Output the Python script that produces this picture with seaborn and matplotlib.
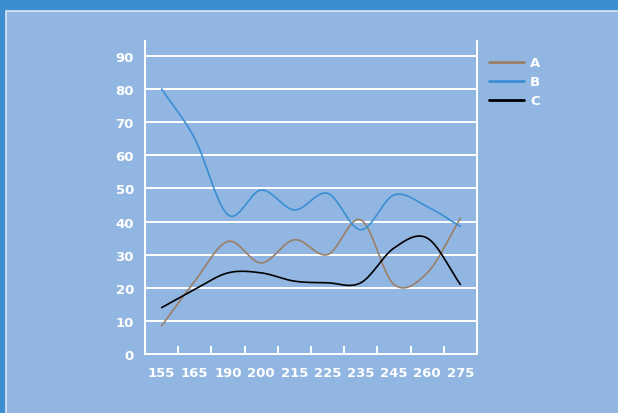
import numpy as np
import pandas as pd
import matplotlib
matplotlib.use("Agg")
import matplotlib.pyplot as plt
from matplotlib.patches import Rectangle
import seaborn as sns

# Chart data
categories = ["155", "165", "190", "200", "215", "225", "235", "245", "260", "275"]
series_a = [8.5, 22, 34, 27.5, 34.5, 30, 40.5, 21, 24.5, 41]
series_b = [80, 65, 42, 49.5, 43.5, 48.5, 37.5, 48, 44.5, 38.5]
series_c = [14, 19.5, 24.5, 24.5, 22, 21.5, 21.5, 32, 35, 21]
series_names = ["A", "B", "C"]
y_ticks = [0, 10, 20, 30, 40, 50, 60, 70, 80, 90]

colors = {"A": "#9a7f68", "B": "#3a8fd4", "C": "#000000"}
outer_bg = "#3d8ecf"
panel_bg = "#91b6e1"


def _smooth(values, steps=30):
    """Catmull-Rom curve through the points, x in category index units."""
    y = np.asarray(values, dtype=float)
    n = len(y)
    tang = np.empty(n)
    tang[0] = y[1] - y[0]
    tang[-1] = y[-1] - y[-2]
    tang[1:-1] = (y[2:] - y[:-2]) / 2
    xs, ys = [], []
    for i in range(n - 1):
        t = np.linspace(0, 1, steps, endpoint=False)
        h00 = 2 * t**3 - 3 * t**2 + 1
        h10 = t**3 - 2 * t**2 + t
        h01 = -2 * t**3 + 3 * t**2
        h11 = t**3 - t**2
        xs.append(i + t)
        ys.append(h00 * y[i] + h10 * tang[i] + h01 * y[i + 1] + h11 * tang[i + 1])
    xs.append([n - 1])
    ys.append([y[-1]])
    return np.concatenate(xs), np.concatenate(ys)


frames = []
for name, vals in zip(series_names, [series_a, series_b, series_c]):
    sx, sy = _smooth(vals)
    frames.append(pd.DataFrame({"x": sx, "y": sy, "series": name}))
df = pd.concat(frames, ignore_index=True)

sns.set_theme(style="white")
plt.rcParams["font.family"] = ["DejaVu Sans"]

fig = plt.figure(figsize=(6.18, 4.14), dpi=100)
fig.patch.set_facecolor(outer_bg)

# inner light panel with thin pale border
panel = Rectangle((6 / 618, -0.1), 1.2, 1.1 - 12 / 414, transform=fig.transFigure,
                  facecolor=panel_bg, edgecolor="#dbe8f6", linewidth=1.2, zorder=-5)
fig.patches.append(panel)

ax = fig.add_axes([145 / 618, 59 / 414, 332 / 618, 313 / 414])
ax.set_zorder(2)
ax.set_facecolor(panel_bg)

sns.lineplot(data=df, x="x", y="y", hue="series", palette=colors, sort=False,
             linewidth=1.2, ax=ax, estimator=None)

ax.set_xlim(-0.5, len(categories) - 0.5)
ax.set_ylim(0, 94.5)

ax.set_yticks(y_ticks)
ax.set_yticklabels([str(v) for v in y_ticks])
ax.set_xticks(range(len(categories)))
ax.set_xticklabels(categories)
ax.set_xticks(np.arange(0.5, len(categories) - 1, 1.0), minor=True)

ax.yaxis.grid(True, color="white", linewidth=1.4)
ax.set_axisbelow(True)

for side in ["left", "bottom", "right"]:
    ax.spines[side].set_visible(True)
    ax.spines[side].set_color("white")
    ax.spines[side].set_linewidth(1.4)
ax.spines["top"].set_visible(False)

ax.tick_params(axis="x", which="major", bottom=True, length=0, pad=9, labelsize=9.5,
               labelcolor="white")
ax.tick_params(axis="x", which="minor", bottom=True, direction="in", length=6, width=1.4,
               color="white")
ax.tick_params(axis="y", length=0, pad=8, labelsize=9.5, labelcolor="white")
for lab in ax.get_xticklabels() + ax.get_yticklabels():
    lab.set_fontweight("bold")

ax.set_xlabel("")
ax.set_ylabel("")

leg = ax.legend(loc="upper left", bbox_to_anchor=(484 / 618, 1 - 52 / 414),
                bbox_transform=fig.transFigure, frameon=False, handlelength=2.6,
                handletextpad=0.5, labelspacing=0.45, fontsize=9.5, borderaxespad=0)
for txt in leg.get_texts():
    txt.set_color("white")
    txt.set_fontweight("bold")
for line in leg.get_lines():
    line.set_linewidth(2)

fig.savefig("out.png", dpi=100, facecolor=fig.get_facecolor())
plt.close(fig)
